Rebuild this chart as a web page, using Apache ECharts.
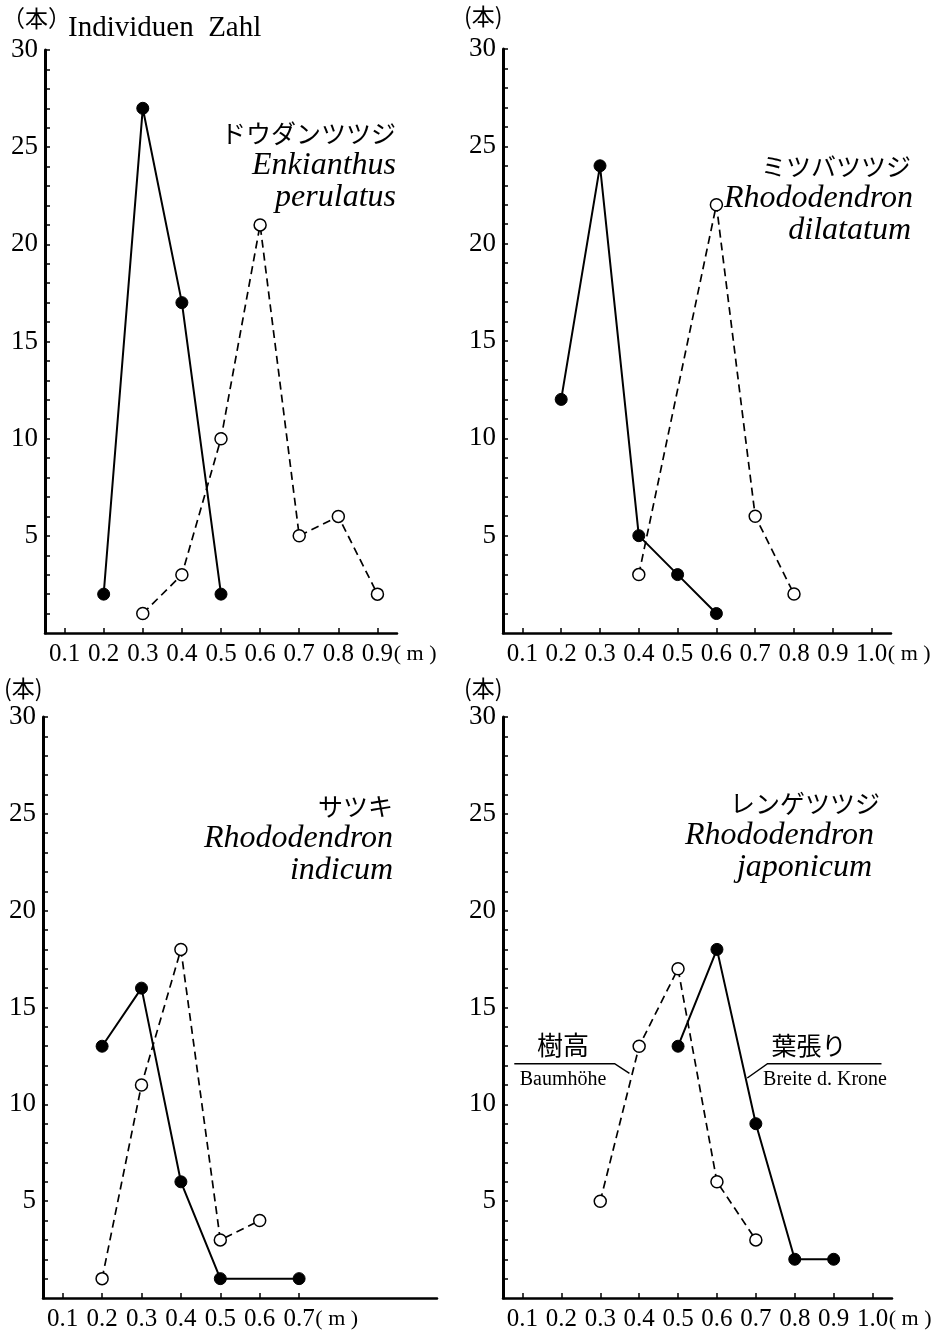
<!DOCTYPE html>
<html>
<head>
<meta charset="utf-8">
<script src="https://cdn.jsdelivr.net/npm/echarts@6.0.0/dist/echarts.min.js"></script>
<style>
  html, body { margin: 0; padding: 0; background: #fff; }
  #main { width: 940px; height: 1333px; }
</style>
</head>
<body>
<div id="main"></div>
<script>
// 数据 (Höhe / Breite, m) -> Individuen
var x1Solid = [0.2, 0.3, 0.4, 0.5];
var y1Solid = [2, 27, 17, 2];
var x1Dash = [0.3, 0.4, 0.5, 0.6, 0.7, 0.8, 0.9];
var y1Dash = [1, 3, 10, 21, 5, 6, 2];

var x2Solid = [0.2, 0.3, 0.4, 0.5, 0.6];
var y2Solid = [12, 24, 5, 3, 1];
var x2Dash = [0.4, 0.6, 0.7, 0.8];
var y2Dash = [3, 22, 6, 2];

var x3Solid = [0.2, 0.3, 0.4, 0.5, 0.7];
var y3Solid = [13, 16, 6, 1, 1];
var x3Dash = [0.2, 0.3, 0.4, 0.5, 0.6];
var y3Dash = [1, 11, 18, 3, 4];

var x4Dash = [0.3, 0.4, 0.5, 0.6, 0.7];
var y4Dash = [5, 13, 17, 6, 3];
var x4Solid = [0.5, 0.6, 0.7, 0.8, 0.9];
var y4Solid = [13, 18, 9, 2, 2];

var xTicks9 = [0.1, 0.2, 0.3, 0.4, 0.5, 0.6, 0.7, 0.8, 0.9];
var xTicks10 = [0.1, 0.2, 0.3, 0.4, 0.5, 0.6, 0.7, 0.8, 0.9, 1.0];
var xTicks7 = [0.1, 0.2, 0.3, 0.4, 0.5, 0.6, 0.7];
var yMinor = [];
for (var k = 0; k <= 30; k++) yMinor.push(k);

var speciesJp = ['ドウダンツツジ', 'ミツバツツジ', 'サツキ', 'レンゲツツジ'];
var speciesLat1 = ['Enkianthus', 'Rhododendron', 'Rhododendron', 'Rhododendron'];
var speciesLat2 = ['perulatus', 'dilatatum', 'indicum', 'japonicum'];

var serif = '"Liberation Serif", "DejaVu Serif", serif';
var cjk = '"Noto Sans CJK JP", sans-serif';

function zip(xs, ys) {
  var out = [];
  for (var i = 0; i < xs.length; i++) out.push([xs[i], ys[i]]);
  return out;
}

var grids = [
  { left: 45, top: 50, width: 352, height: 583 },
  { left: 503, top: 49, width: 388, height: 584 },
  { left: 43, top: 717, width: 394, height: 581 },
  { left: 503, top: 717, width: 389, height: 581 }
];
var xMax = [0.95, 1.05, 1.05, 1.05];
var xTickSets = [xTicks9, xTicks10, xTicks7, xTicks10];

var xAxes = [], yAxes = [];
for (var g = 0; g < 4; g++) {
  (function (g) {
    var ticks = xTickSets[g];
    var last = ticks[ticks.length - 1];
    xAxes.push({
      type: 'value',
      gridIndex: g,
      min: 0.05,
      max: xMax[g],
      splitLine: { show: false },
      axisLine: { lineStyle: { color: '#000', width: 2.5 } },
      axisTick: { inside: true, length: 5, customValues: ticks, lineStyle: { color: '#000', width: 1.5 } },
      axisLabel: {
        customValues: ticks,
        margin: 9,
        color: '#000',
        fontFamily: serif,
        fontSize: 25,
        formatter: function (v) {
          var s = v.toFixed(1);
          if (Math.abs(v - last) < 1e-6) return '{v|' + s + '}{m|( m )}';
          return s;
        },
        rich: {
          v: { fontFamily: serif, fontSize: 25, color: '#000', padding: [0, 0, 0, 44] },
          m: { fontFamily: serif, fontSize: 22, color: '#000', width: 44, align: 'left' }
        }
      }
    });
    yAxes.push({
      type: 'value',
      gridIndex: g,
      min: 0,
      max: 30,
      interval: 5,
      splitLine: { show: false },
      axisLine: { lineStyle: { color: '#000', width: 3 } },
      axisTick: { inside: true, length: 5, customValues: yMinor, lineStyle: { color: '#000', width: 1.5 } },
      axisLabel: {
        showMinLabel: false,
        margin: 7,
        color: '#000',
        fontFamily: serif,
        fontSize: 27
      }
    });
  })(g);
}

function solidSeries(g, xs, ys) {
  return {
    type: 'line',
    xAxisIndex: g,
    yAxisIndex: g,
    data: zip(xs, ys),
    symbol: 'circle',
    symbolSize: 12,
    z: 3,
    lineStyle: { color: '#000', width: 2 },
    itemStyle: { color: '#000', borderColor: '#000', borderWidth: 1 }
  };
}
function dashSeries(g, xs, ys) {
  return {
    type: 'line',
    xAxisIndex: g,
    yAxisIndex: g,
    data: zip(xs, ys),
    symbol: 'circle',
    symbolSize: 12,
    z: 4,
    lineStyle: { color: '#000', width: 1.7, type: [8, 5] },
    itemStyle: { color: '#fff', borderColor: '#000', borderWidth: 1.5 }
  };
}

var myChart = echarts.init(document.getElementById('main'), null, { renderer: 'canvas' });
var option = {
  animation: false,
  backgroundColor: '#fff',
  grid: grids,
  xAxis: xAxes,
  yAxis: yAxes,
  series: [
    solidSeries(0, x1Solid, y1Solid),
    dashSeries(0, x1Dash, y1Dash),
    solidSeries(1, x2Solid, y2Solid),
    dashSeries(1, x2Dash, y2Dash),
    solidSeries(2, x3Solid, y3Solid),
    dashSeries(2, x3Dash, y3Dash),
    dashSeries(3, x4Dash, y4Dash),
    solidSeries(3, x4Solid, y4Solid)
  ]
};
myChart.setOption(option);

// 文字说明
function txt(x, y, s, font, align) {
  return {
    type: 'text',
    x: x,
    y: y,
    style: { text: s, font: font, fill: '#000', textAlign: align || 'left', textVerticalAlign: 'middle' }
  };
}
var graphics = [];
graphics.push(txt(2, 18, '（本）', '23px ' + cjk));
graphics.push(txt(68, 28, 'Individuen  Zahl', '29px ' + serif));
graphics.push(txt(464, 16, '(本)', '23px ' + cjk));
graphics.push(txt(4, 688, '(本)', '23px ' + cjk));
graphics.push(txt(464, 688, '(本)', '23px ' + cjk));

var labelRight = [396, 911, 393, 880];
var labelTop = [133, 166, 806, 803];
for (var p = 0; p < 4; p++) {
  graphics.push(txt(labelRight[p], labelTop[p], speciesJp[p], '25px ' + cjk, 'right'));
  graphics.push(txt(labelRight[p] + (p === 1 ? 2 : (p === 3 ? -6 : 0)), labelTop[p] + 33, speciesLat1[p], 'italic 32px ' + serif, 'right'));
  graphics.push(txt(labelRight[p] + (p === 3 ? -8 : 0), labelTop[p] + 65, speciesLat2[p], 'italic 32px ' + serif, 'right'));
}

// 引出线 (panel 4)
function px(pt) { return myChart.convertToPixel({ gridIndex: 3 }, pt); }
var leftLead = [px([0.079, 12.1]), px([0.337, 12.1]), px([0.375, 11.6])];
var rightLead = [px([1.023, 12.1]), px([0.73, 12.1]), px([0.678, 11.36])];
graphics.push({ type: 'polyline', shape: { points: leftLead }, style: { stroke: '#000', lineWidth: 1.5, fill: null } });
graphics.push({ type: 'polyline', shape: { points: rightLead }, style: { stroke: '#000', lineWidth: 1.5, fill: null } });
graphics.push(txt(563, 1045, '樹高', '26px ' + cjk, 'center'));
graphics.push(txt(563, 1080, 'Baumhöhe', '20px ' + serif, 'center'));
graphics.push(txt(809, 1045, '葉張り', '25px ' + cjk, 'center'));
graphics.push(txt(825, 1080, 'Breite d. Krone', '20px ' + serif, 'center'));

myChart.setOption({ graphic: graphics });
</script>
</body>
</html>
